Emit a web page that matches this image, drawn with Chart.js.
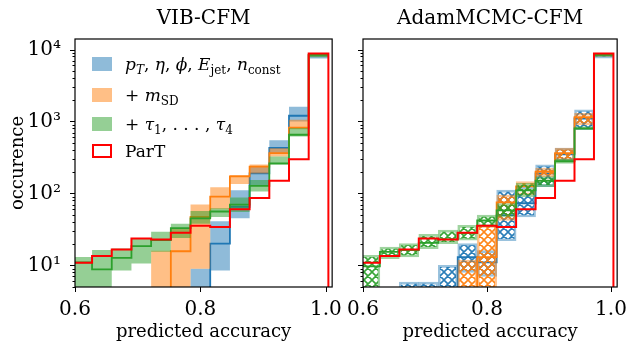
<!DOCTYPE html>
<html>
<head>
<meta charset="utf-8">
<script src="https://cdn.jsdelivr.net/npm/chart.js@4/dist/chart.umd.min.js"></script>
<style>
html, body { margin: 0; padding: 0; background: #fff; }
#wrap { position: relative; width: 630px; height: 344px; }
.panel { position: absolute; top: 0; height: 344px; }
</style>
</head>
<body>
<div id="wrap">
  <div class="panel" style="left:0;width:345px"><canvas id="vibChart"></canvas></div>
  <div class="panel" style="left:300px;width:330px"><canvas id="mcmcChart"></canvas></div>
</div>
<script>
// histogram bins: left edges plus the last right edge
const binEdges = [0.5958, 0.6272, 0.6586, 0.6900, 0.7214, 0.7528, 0.7842, 0.8156, 0.8470, 0.8784, 0.9098, 0.9412, 0.9726, 1.0040];
const xTicks = [0.6, 0.8, 1.0];
const yMajor = [10, 100, 1000, 10000];
const yMinor = [5, 6, 7, 8, 9, 20, 30, 40, 50, 60, 70, 80, 90, 200, 300, 400, 500, 600, 700, 800, 900,
                2000, 3000, 4000, 5000, 6000, 7000, 8000, 9000];

// ParT reference (same in both panels)
const partCounts = [10.9, 13.5, 16.6, 23.7, 22.9, 28.3, 35.5, 34.2, 60, 86, 150, 299, 8800];

// VIB-CFM: central value, lower and upper edge of band
const vibKin   = [0, 0, 0, 0, 0, 0, 0, 20, 65, 190, 430, 1200, 8300];
const vibKinLo = [0, 0, 0, 0, 0, 0, 0, 8.5, 45, 130, 362, 1000, 7500];
const vibKinHi = [0, 0, 0, 0, 0, 0, 9, 41, 111, 236, 550, 1600, 8700];
const vibMsd   = [0, 0, 0, 0, 0, 15.7, 47, 90, 172, 236, 362, 820, 8500];
const vibMsdLo = [0, 0, 0, 0, 0, 0, 9, 60, 135, 189, 325, 780, 8000];
const vibMsdHi = [0, 0, 0, 0, 16, 33, 70, 122, 180, 252, 425, 1060, 8800];
const vibTau   = [11, 8.8, 12.7, 18.5, 22.4, 33, 45, 56, 70, 127, 262, 653, 8400];
const vibTauLo = [0, 0, 8.5, 10.6, 15.4, 24, 38, 47, 55, 106, 250, 618, 7800];
const vibTauHi = [13.1, 16.3, 17.1, 23.7, 29.2, 38, 57, 62, 88, 154, 325, 809, 8800];

// AdamMCMC-CFM
const mcKin   = [0, 0, 0, 0, 0, 13, 11, 50, 73, 190, 350, 1100, 8300];
const mcKinLo = [0, 0, 0, 0, 0, 8, 7, 22, 47, 124, 280, 766, 7600];
const mcKinHi = [0, 0, 5.85, 5.85, 10, 20, 16, 111, 124, 249, 425, 1455, 8700];
const mcMsd   = [0, 0, 0, 0, 0, 0, 13, 75, 125, 200, 362, 1150, 8500];
const mcMsdLo = [0, 0, 0, 0, 0, 0, 0, 42, 95, 171, 292, 900, 8000];
const mcMsdHi = [0, 0, 0, 0, 0, 11.7, 36, 95, 146, 223, 425, 1300, 8800];
const mcTau   = [9.7, 15.4, 16.3, 20.5, 23, 28, 42, 58, 110, 150, 280, 800, 8400];
const mcTauLo = [0, 12.4, 13.1, 17.1, 20, 22.3, 34.3, 47, 90, 124, 262, 766, 8000];
const mcTauHi = [13.8, 18, 20, 27, 30.8, 36, 50, 72, 138, 171, 300, 851, 8700];

const BLUE = [31, 119, 180], ORANGE = [255, 127, 14], GREEN = [44, 160, 44];
const FLOOR = 1; // empty bins sit below the axis
const SERIF = '"DejaVu Serif", serif';
const SUP = { 1: '\u00b9', 2: '\u00b2', 3: '\u00b3', 4: '\u2074' };

// legend entries, split into [text, style] runs (i = italic, s = subscript)
const legendRows = [
    { rgb: BLUE, parts: [['p', 'i'], ['T', 'is'], [', ', ''], ['\u03b7', 'i'], [', ', ''], ['\u03d5', 'i'], [', ', ''],
                         ['E', 'i'], ['jet', 's'], [', ', ''], ['n', 'i'], ['const', 's']] },
    { rgb: ORANGE, parts: [['+ ', ''], ['m', 'i'], ['SD', 's']] },
    { rgb: GREEN, parts: [['+ ', ''], ['\u03c4', 'i'], ['1', 's'], [', . . . , ', ''], ['\u03c4', 'i'], ['4', 's']] },
    { rgb: null, parts: [['ParT', '']] }
];

function rgba(c, a) { return 'rgba(' + c[0] + ',' + c[1] + ',' + c[2] + ',' + a + ')'; }

// step outline; only the ParT line drops back to the floor after the last bin
function steps(vals, drop) {
    const pts = vals.map((v, i) => ({ x: binEdges[i], y: v > 0 ? v : FLOOR }));
    const last = binEdges[binEdges.length - 1];
    pts.push({ x: last, y: pts[pts.length - 1].y });
    if (drop) pts.push({ x: last, y: FLOOR });
    return pts;
}

// one floating box per bin, from lower to upper band edge
function boxes(lo, hi) {
    const out = [];
    hi.forEach((h, i) => {
        if (h > 0) out.push({ x: (binEdges[i] + binEdges[i + 1]) / 2, y: [lo[i] > 0 ? lo[i] : FLOOR, h] });
    });
    return out;
}

function hatch(color) {
    const n = 8;
    const c = document.createElement('canvas');
    c.width = n; c.height = n;
    const g = c.getContext('2d');
    g.strokeStyle = color;
    g.lineWidth = 1.6;
    g.beginPath();
    for (const k of [-n, 0, n]) {
        g.moveTo(k, 0); g.lineTo(k + n, n);
        g.moveTo(k, n); g.lineTo(k + n, 0);
    }
    g.stroke();
    return g.createPattern(c, 'repeat');
}

function buildSets(series, hatched) {
    const sets = [];
    let order = 100;
    series.forEach(s => {
        if (hatched) {
            sets.push({ type: 'bar', data: boxes(s.lo, s.hi), backgroundColor: hatch(rgba(s.rgb, 0.95)),
                        borderColor: rgba(s.rgb, 0.45), borderWidth: 2, borderSkipped: false,
                        grouped: false, barPercentage: 1, categoryPercentage: 1, clip: 0, order: order-- });
        } else {
            const loIndex = sets.length;
            sets.push({ data: steps(s.lo, false), borderWidth: 0, fill: false, order: order-- });
            sets.push({ data: steps(s.hi, false), borderWidth: 0, fill: { target: loIndex },
                        backgroundColor: rgba(s.rgb, 0.5), order: order-- });
        }
        sets.push({ data: steps(s.mid, false), borderColor: rgba(s.rgb, 1), borderWidth: 1.8, fill: false, order: order-- });
    });
    sets.push({ data: steps(partCounts, true), borderColor: '#ff0000', borderWidth: 2, fill: false, order: 0 });
    return sets;
}

function decoPlugin(title) {
    return {
        id: 'deco',
        afterDraw(chart) {
            const { ctx, chartArea: a, scales: { x, y } } = chart;
            ctx.save();
            ctx.strokeStyle = '#000';
            ctx.lineWidth = 1;
            ctx.beginPath();
            yMinor.forEach(v => {
                const py = Math.round(y.getPixelForValue(v)) + 0.5;
                ctx.moveTo(a.left, py); ctx.lineTo(a.left - 2.5, py);
            });
            yMajor.forEach(v => {
                const py = Math.round(y.getPixelForValue(v)) + 0.5;
                ctx.moveTo(a.left, py); ctx.lineTo(a.left - 5, py);
            });
            xTicks.forEach(v => {
                const px = Math.round(x.getPixelForValue(v)) + 0.5;
                ctx.moveTo(px, a.bottom); ctx.lineTo(px, a.bottom + 5);
            });
            ctx.stroke();
            ctx.lineWidth = 1.2;
            ctx.strokeRect(a.left, a.top, a.right - a.left, a.bottom - a.top);
            ctx.fillStyle = '#000';
            ctx.font = '20px ' + SERIF;
            ctx.textAlign = 'center';
            ctx.textBaseline = 'middle';
            ctx.fillText(title, (a.left + a.right) / 2, 19);
            ctx.restore();
        }
    };
}

const legendPlugin = {
    id: 'richLegend',
    afterDraw(chart) {
        const { ctx, chartArea: a } = chart;
        const rowY = [25, 56, 85, 112];
        ctx.save();
        ctx.textAlign = 'left';
        ctx.textBaseline = 'alphabetic';
        legendRows.forEach((row, r) => {
            const cy = a.top + rowY[r];
            const px = a.left + 17;
            if (row.rgb) {
                ctx.fillStyle = rgba(row.rgb, 0.5);
                ctx.fillRect(px, cy - 7, 20, 14);
            } else {
                ctx.fillStyle = '#fff';
                ctx.fillRect(px, cy - 7, 20, 14);
                ctx.strokeStyle = '#ff0000';
                ctx.lineWidth = 2;
                ctx.strokeRect(px + 1, cy - 6, 18, 12);
            }
            let tx = px + 33;
            ctx.fillStyle = '#000';
            row.parts.forEach(([txt, st]) => {
                const sub = st.includes('s');
                ctx.font = (st.includes('i') ? 'italic ' : '') + (sub ? '12px ' : '17px ') + SERIF;
                ctx.fillText(txt, tx, cy + 6 + (sub ? 4 : 0));
                tx += ctx.measureText(txt).width;
            });
        });
        ctx.restore();
    }
};

function makeChart(id, title, series, hatched, yWidth, padRight, showYLabels) {
    const plugins = [decoPlugin(title)];
    if (showYLabels) plugins.push(legendPlugin);
    return new Chart(document.getElementById(id), {
        type: 'line',
        data: { datasets: buildSets(series, hatched) },
        options: {
            responsive: true,
            maintainAspectRatio: false,
            animation: false,
            events: [],
            layout: { autoPadding: false, padding: { top: 39, right: padRight, left: 0, bottom: 0 } },
            elements: { point: { radius: 0 }, line: { stepped: 'before', tension: 0 } },
            plugins: { legend: { display: false }, tooltip: { enabled: false } },
            scales: {
                x: {
                    type: 'linear',
                    min: 0.6,
                    max: 1.01,
                    offset: false,
                    grid: { display: false },
                    border: { display: false },
                    afterBuildTicks: s => { s.ticks = xTicks.map(v => ({ value: v })); },
                    afterFit: s => { s.height = 57; },
                    ticks: {
                        autoSkip: false, maxRotation: 0, padding: 3, color: '#000',
                        font: { family: SERIF, size: 20 },
                        callback: v => v.toFixed(1)
                    },
                    title: {
                        display: true, text: 'predicted accuracy', color: '#000',
                        font: { family: SERIF, size: 18 }, padding: { top: 0, bottom: 1 }
                    }
                },
                y: {
                    type: 'logarithmic',
                    min: 5,
                    max: 14000,
                    grid: { display: false },
                    border: { display: false },
                    afterBuildTicks: s => { s.ticks = yMajor.map(v => ({ value: v })); },
                    afterFit: s => { s.width = yWidth; },
                    ticks: {
                        display: showYLabels, padding: 6, color: '#000',
                        font: { family: SERIF, size: 20 },
                        callback: v => '10' + SUP[Math.round(Math.log10(v))]
                    },
                    title: {
                        display: showYLabels, text: 'occurence', color: '#000',
                        font: { family: SERIF, size: 18 }, padding: { top: 8, bottom: 0 }
                    }
                }
            }
        },
        plugins: plugins
    });
}

makeChart('vibChart', 'VIB-CFM', [
    { rgb: BLUE, mid: vibKin, lo: vibKinLo, hi: vibKinHi },
    { rgb: ORANGE, mid: vibMsd, lo: vibMsdLo, hi: vibMsdHi },
    { rgb: GREEN, mid: vibTau, lo: vibTauLo, hi: vibTauHi }
], false, 75, 9, true);

makeChart('mcmcChart', 'AdamMCMC-CFM', [
    { rgb: BLUE, mid: mcKin, lo: mcKinLo, hi: mcKinHi },
    { rgb: ORANGE, mid: mcMsd, lo: mcMsdLo, hi: mcMsdHi },
    { rgb: GREEN, mid: mcTau, lo: mcTauLo, hi: mcTauHi }
], true, 63, 6, false);
</script>
</body>
</html>
